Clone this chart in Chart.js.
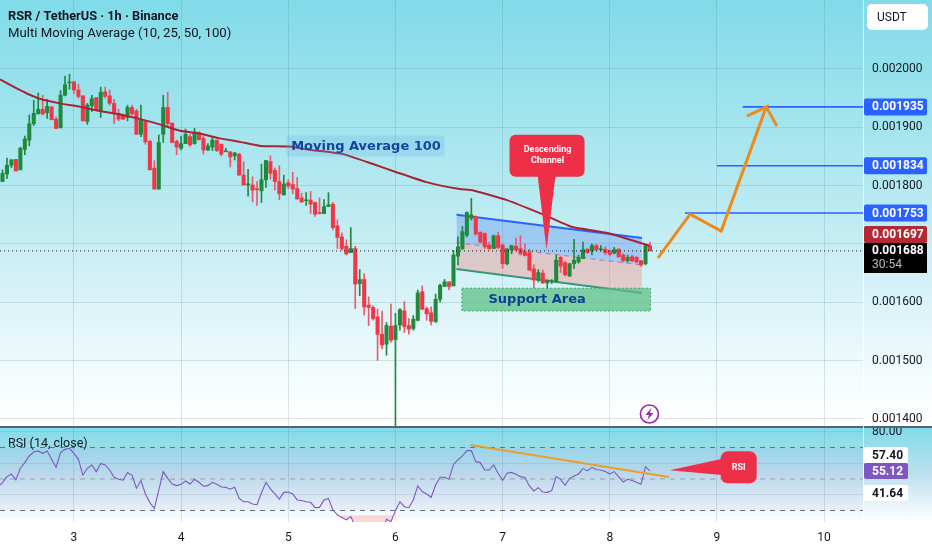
<!DOCTYPE html>
<html><head><meta charset="utf-8">
<style>html,body{margin:0;padding:0;background:#fff;overflow:hidden}canvas{display:block}</style>
<script src="https://cdn.jsdelivr.net/npm/chart.js@4/dist/chart.umd.min.js"></script>
</head><body><canvas id="c" width="932" height="550"></canvas>
<script>
// Prices in millionths of USDT (1935 = 0.001935). Candles are hourly; candle 16 opens day 3.
const firstCandleDay = 3 - 16/24;
const opens = [1807,1820,1835,1845,1827,1862,1878,1906,1923,1931,1925,1935,1914,1899,1955,1976,1978,1964,1954,1910,1937,1951,1929,1961,1954,1941,1924,1921,1917,1934,1928,1888,1910,1876,1830,1794,1888,1934,1907,1876,1864,1872,1884,1872,1891,1881,1861,1866,1878,1871,1858,1858,1851,1854,1818,1801,1801,1794,1791,1810,1841,1826,1807,1784,1805,1802,1795,1779,1774,1775,1771,1754,1752,1764,1768,1731,1712,1696,1685,1692,1632,1639,1595,1591,1575,1545,1528,1559,1536,1561,1585,1560,1555,1569,1618,1589,1582,1567,1605,1627,1635,1628,1679,1692,1715,1744,1747,1720,1718,1698,1692,1714,1698,1666,1690,1696,1692,1687,1685,1657,1638,1650,1633,1635,1635,1677,1668,1645,1666,1669,1675,1691,1688,1697,1690,1691,1688,1684,1691,1681,1671,1678,1677,1671,1666,1697];
const highs = [1827,1847,1845,1845,1866,1885,1921,1946,1959,1955,1948,1935,1918,1963,1988,1991,1978,1974,1954,1941,1955,1951,1969,1969,1964,1948,1931,1923,1938,1938,1931,1938,1911,1878,1843,1887,1955,1960,1908,1878,1885,1897,1888,1898,1892,1885,1872,1884,1878,1871,1864,1858,1857,1855,1841,1828,1815,1807,1837,1843,1851,1830,1834,1818,1810,1823,1814,1787,1788,1790,1772,1779,1776,1788,1771,1741,1719,1707,1728,1696,1656,1649,1609,1594,1588,1585,1565,1597,1581,1589,1601,1572,1577,1621,1628,1592,1592,1614,1631,1639,1635,1689,1712,1730,1755,1778,1748,1721,1719,1703,1715,1720,1700,1692,1698,1710,1714,1700,1691,1664,1656,1655,1638,1639,1681,1679,1670,1667,1708,1681,1703,1692,1700,1700,1697,1695,1690,1694,1692,1683,1681,1681,1679,1672,1698,1703];
const lows = [1807,1812,1831,1825,1827,1853,1868,1903,1923,1921,1915,1913,1898,1899,1954,1965,1958,1950,1911,1905,1927,1929,1917,1950,1938,1906,1911,1913,1911,1921,1888,1884,1871,1827,1794,1794,1874,1901,1874,1853,1861,1872,1867,1871,1878,1854,1860,1860,1858,1851,1858,1832,1844,1818,1801,1782,1772,1766,1771,1797,1811,1792,1776,1784,1795,1786,1777,1771,1766,1752,1747,1751,1752,1764,1724,1692,1689,1681,1685,1589,1611,1578,1560,1569,1500,1520,1509,1531,1386,1552,1548,1545,1552,1568,1587,1569,1561,1565,1600,1627,1621,1628,1664,1690,1712,1741,1715,1701,1692,1690,1692,1692,1658,1664,1683,1688,1681,1679,1655,1624,1635,1632,1624,1632,1635,1651,1645,1644,1658,1667,1675,1684,1681,1688,1688,1681,1679,1683,1677,1669,1669,1669,1668,1662,1664,1688];
const closes = [1821,1835,1844,1825,1864,1880,1906,1924,1931,1923,1936,1913,1898,1955,1973,1977,1964,1953,1911,1938,1949,1929,1960,1953,1941,1923,1914,1914,1934,1923,1888,1913,1875,1827,1794,1874,1934,1906,1874,1866,1872,1888,1870,1892,1879,1861,1868,1878,1860,1854,1859,1849,1856,1818,1801,1803,1792,1793,1810,1843,1821,1807,1786,1803,1799,1794,1777,1772,1775,1768,1751,1752,1764,1767,1728,1711,1692,1683,1692,1631,1639,1592,1591,1572,1545,1527,1560,1535,1560,1587,1558,1554,1571,1616,1588,1580,1567,1605,1629,1635,1627,1681,1695,1721,1754,1750,1717,1703,1695,1692,1714,1694,1666,1691,1697,1690,1683,1680,1655,1638,1651,1633,1638,1636,1672,1662,1647,1666,1672,1677,1690,1685,1697,1690,1691,1685,1682,1690,1678,1671,1677,1671,1669,1664,1697,1688];
const maDays = [2.31,2.43,2.56,2.68,2.87,3.06,3.24,3.43,3.62,3.80,3.99,4.18,4.36,4.55,4.74,5.01,5.22,5.51,5.79,6.01,6.29,6.60,6.72,7.04,7.41,7.65,7.97,8.37];
const maValues = [1982,1970,1958,1949,1941,1935,1928,1922,1914,1905,1894,1889,1881,1875,1868,1867,1861,1854,1837,1823,1806,1794,1792,1775,1748,1729,1719,1697];
// RSI, hourly, starting one hour before the first candle
const rsiValues = [45.1,47.7,51.5,53.2,49.4,56.8,60.4,64.6,67.1,67.8,66.3,67.8,62.5,57.4,66.7,68.8,69.5,66.3,62.5,52.5,56.8,58.9,54.7,59.9,58.9,55.7,51.1,49.8,49.2,54.0,52.5,44.1,49.0,40.5,35.0,31.4,43.0,54.7,50.4,46.8,45.8,46.6,48.7,46.8,49.8,47.9,45.4,45.8,47.9,46.6,44.9,44.7,43.5,44.7,37.7,35.6,35.6,34.1,33.7,41.3,47.9,43.7,40.5,37.3,41.5,41.7,40.5,36.7,36.3,35.6,35.2,31.8,32.0,36.7,37.7,30.3,27.2,25.5,24.0,26.1,19.8,17.6,13.4,13.4,13.4,11.3,15.5,24.4,22.9,29.9,35.6,32.4,31.8,36.7,45.6,42.0,40.5,38.4,46.2,51.1,51.1,49.8,59.3,62.1,64.6,68.0,68.0,61.0,60.4,55.7,55.7,58.9,53.6,49.0,53.6,54.2,53.0,51.5,50.9,45.6,42.4,44.5,41.7,41.5,42.6,51.5,49.8,46.0,50.4,51.9,53.2,56.6,55.3,57.4,55.9,55.7,54.7,53.2,54.7,51.5,48.1,49.8,49.0,47.9,46.6,57.8,55.1];
const dayTicks = [3,4,5,6,7,8,9,10];
const priceTicks = [1400,1500,1600,1700,1800,1900,2000];
const rsiTicks = [40,60,80];
const rsiBands = [70,50,30];
const targetLevels = [1935,1834,1753];
const targetStarts = [9.24,9.00,8.70];
const lastPrice = 1688, maLast = 1697;
const channelDays = [6.57,8.30];
const channelUpper = [1750,1710];
const channelMiddle = [1702,1664];
const channelLower = [1657,1616];
const supportDays = [6.62,8.38];
const supportPrices = [1585,1624];
const arrowDays = [8.45,8.75,9.04,9.46,9.28,9.46,9.56];
const arrowPrices = [1676,1751,1722,1935,1919,1935,1902];
const rsiTrendDays = [6.70,8.55];
const rsiTrendValues = [71.6,51.3];
const rsiLabels = ['57.40','55.12','41.64'];

const xMin = 2.31, xMax = 10.363;
const day = i => firstCandleDay + i/24;
const red = '#f23645', green = '#1f8a3c';
const up = i => closes[i] >= opens[i];
const idx = opens.map((_,i)=>i);
const xy = (xs,ys) => xs.map((x,i)=>({x,y:ys[i]}));
const wick = (f,color) => ({type:'bar',yAxisID:'y',order:20,grouped:false,barThickness:1,backgroundColor:color,borderWidth:0,
  data:idx.filter(f).map(i=>({x:day(i),y:[lows[i],highs[i]]}))});
const body = (f,color) => ({type:'bar',yAxisID:'y',order:19,grouped:false,barThickness:3.4,minBarLength:1,backgroundColor:color,borderWidth:0,
  data:idx.filter(f).map(i=>({x:day(i),y:[Math.min(opens[i],closes[i]),Math.max(opens[i],closes[i])]}))});
const line = (data,o) => Object.assign({type:'line',yAxisID:'y',pointRadius:0,tension:0,fill:false,borderWidth:1,data},o);

const data = {datasets:[
  line(xy(channelDays,channelUpper),{order:25,borderColor:'#2962ff',borderWidth:2,fill:'+1',backgroundColor:'rgba(80,130,240,0.33)'}),
  line(xy(channelDays,channelMiddle),{order:25,borderColor:'rgba(230,70,90,0.75)',borderDash:[5,4],fill:'+1',backgroundColor:'rgba(250,130,125,0.36)'}),
  line(xy(channelDays,channelLower),{order:25,borderColor:'#109a78',borderWidth:2}),
  wick(i=>up(i),green), wick(i=>!up(i),'#ea5a6c'), body(i=>up(i),green), body(i=>!up(i),red),
  line(xy(maDays,maValues),{order:10,borderColor:'#a52535',borderWidth:2,tension:0.15}),
  line(xy([xMin,xMax],[lastPrice,lastPrice]),{order:9,borderColor:'#111',borderDash:[1,3]}),
  line(xy([targetStarts[0],xMax],[targetLevels[0],targetLevels[0]]),{order:8,borderColor:'#2962ff',borderWidth:1.6}),
  line(xy([targetStarts[1],xMax],[targetLevels[1],targetLevels[1]]),{order:8,borderColor:'#2962ff',borderWidth:1.6}),
  line(xy([targetStarts[2],xMax],[targetLevels[2],targetLevels[2]]),{order:8,borderColor:'#2962ff',borderWidth:1.6}),
  line(xy(arrowDays,arrowPrices),{order:7,borderColor:'#ee8a1c',borderWidth:3,borderJoinStyle:'miter'}),
  line(xy([xMin,xMax],[rsiBands[0],rsiBands[0]]),{yAxisID:'y2',order:15,borderColor:'#66727c',borderDash:[5,5],fill:'+1',backgroundColor:'rgba(126,87,194,0.05)'}),
  line(xy([xMin,xMax],[rsiBands[2],rsiBands[2]]),{yAxisID:'y2',order:15,borderColor:'#66727c',borderDash:[5,5]}),
  line(xy([xMin,xMax],[rsiBands[1],rsiBands[1]]),{yAxisID:'y2',order:15,borderColor:'#96a2a9',borderDash:[5,5]}),
  line(rsiValues.map((v,i)=>({x:day(i-1),y:v})),{yAxisID:'y2',order:12,borderColor:'#7e57c2',borderWidth:1.1,
    fill:{target:{value:27},above:'rgba(0,0,0,0)',below:'rgba(255,110,120,0.28)'}}),
  line(xy(rsiTrendDays,rsiTrendValues),{yAxisID:'y2',order:11,borderColor:'#e8a02c',borderWidth:2})
]};

function rr(c,x,y,w,h,r){c.beginPath();c.roundRect(x,y,w,h,r);}
function badge(c,txt,x,y,w,h,bg,fg,r){c.fillStyle=bg;rr(c,x,y,w,h,r||2);c.fill();c.fillStyle=fg;c.font='bold 12px Roboto';c.textAlign='left';c.textBaseline='middle';c.fillText(txt,x+8,y+h/2+0.5);}
const fmt = v => (v/1e6).toFixed(6);
const noPad = s => {s.paddingTop=0;s.paddingBottom=0;s.paddingLeft=0;s.paddingRight=0;};

const panes = {id:'panes',
  beforeDraw(ch){const c=ch.ctx,py=ch.scales.y,ry=ch.scales.y2;
    c.save();c.fillStyle='#fff';c.fillRect(0,0,ch.width,ch.height);
    let g=c.createLinearGradient(0,0,0,py.bottom);g.addColorStop(0,'#80dbe8');g.addColorStop(0.5,'#bdebf2');g.addColorStop(0.97,'#ffffff');
    c.fillStyle=g;c.fillRect(0,0,ch.width,py.bottom);
    g=c.createLinearGradient(0,ry.top,0,ry.bottom);g.addColorStop(0,'#80dbe8');g.addColorStop(0.5,'#bfe0ee');g.addColorStop(1,'#ffffff');
    c.fillStyle=g;c.fillRect(0,ry.top,ch.width,ry.bottom-ry.top);
    c.restore();},
  afterDraw(ch){const c=ch.ctx,X=ch.scales.x,Y=ch.scales.y,R=ch.scales.y2;
    c.save();
    // support zone
    const sx0=X.getPixelForValue(supportDays[0]),sx1=X.getPixelForValue(supportDays[1]);
    const sy0=Y.getPixelForValue(supportPrices[1]),sy1=Y.getPixelForValue(supportPrices[0]);
    c.fillStyle='rgba(90,190,130,0.72)';c.fillRect(sx0,sy0,sx1-sx0,sy1-sy0);
    c.strokeStyle='#4aa36e';c.setLineDash([2,2]);c.strokeRect(sx0,sy0,sx1-sx0,sy1-sy0);c.setLineDash([]);
    c.fillStyle='#0f3f94';c.font='bold 13px "DejaVu Sans"';c.textAlign='center';c.textBaseline='middle';
    c.fillText('Support Area',(sx0+sx1)/2-19,(sy0+sy1)/2);
    // MA caption
    const mx=X.getPixelForValue(5.73),my=Y.getPixelForValue(1867);
    c.fillStyle='rgba(90,170,240,0.22)';c.fillRect(mx-80,my-11,158,21);
    c.fillStyle='#12459c';c.font='bold 13px "DejaVu Sans"';c.fillText('Moving Average 100',mx-0.5,my);
    // descending channel callout
    const tx=X.getPixelForValue(7.41),ty=Y.getPixelForValue(1690);
    c.fillStyle='#ee2f48';rr(c,tx-37,ty-115,75,42,6);c.fill();
    c.beginPath();c.moveTo(tx-9,ty-75);c.lineTo(tx,ty);c.lineTo(tx+9,ty-75);c.closePath();c.fill();
    c.fillStyle='#fff';c.font='bold 9px Roboto';c.fillText('Descending',tx+1,ty-100);c.fillText('Channel',tx+1,ty-89);
    // RSI callout
    const qx=X.getPixelForValue(8.55),qy=R.getPixelForValue(55.5);
    c.fillStyle='#ee2f48';rr(c,qx+52,qy-19,36,32,7);c.fill();
    c.beginPath();c.moveTo(qx+1,qy);c.lineTo(qx+56,qy-12);c.lineTo(qx+56,qy+5);c.closePath();c.fill();
    c.fillStyle='#fff';c.font='bold 9px Roboto';c.fillText('RSI',qx+70,qy-3);
    // bolt icon
    const bx=X.getPixelForValue(8.37),by=414;
    c.fillStyle='rgba(255,255,255,0.7)';c.strokeStyle='#9c27b0';c.lineWidth=1.6;c.beginPath();c.arc(bx,by,9,0,Math.PI*2);c.fill();c.stroke();
    c.fillStyle='#9c27b0';c.beginPath();c.moveTo(bx+2,by-6);c.lineTo(bx-4,by+1);c.lineTo(bx-0.5,by+1);c.lineTo(bx-2,by+6);c.lineTo(bx+4,by-1);c.lineTo(bx+0.5,by-1);c.closePath();c.fill();
    // pane separators
    c.fillStyle='#4f6773';c.fillRect(0,Y.bottom-1,ch.width,2);
    c.fillStyle='rgba(255,255,255,0.85)';c.fillRect(863,0,1,R.bottom);
    // header text
    c.textAlign='left';c.textBaseline='middle';c.fillStyle='#131722';
    c.font='bold 12.8px Roboto';c.fillText('RSR / TetherUS · 1h · Binance',8,16.5);
    c.font='13.2px Roboto';c.fillText('Multi Moving Average (10, 25, 50, 100)',8,33.5);
    c.font='12.5px Roboto';c.fillText('RSI (14, close)',8,444);
    // currency button
    c.fillStyle='#fff';rr(c,867,4,61,26,5);c.fill();c.fillStyle='#131722';c.font='12px Roboto';c.fillText('USDT',877,17.5);
    // price badges
    targetLevels.forEach(v=>badge(c,fmt(v),864,Y.getPixelForValue(v)-8.5,63,17,'#2962ff','#fff'));
    badge(c,fmt(maLast),864,226,63,17,'#b22833','#fff');
    c.fillStyle='#000';c.fillRect(864,243,63,30);c.fillStyle='#fff';c.font='bold 12px Roboto';c.fillText(fmt(lastPrice),872,251);
    c.fillStyle='#b8bcc4';c.font='12px Roboto';c.fillText('30:54',872,265);
    // RSI badges
    badge(c,rsiLabels[0],864,447,44,16,'#fff','#131722');
    badge(c,rsiLabels[1],864,463,44,16,'#7e57c2','#fff');
    badge(c,rsiLabels[2],864,485,44,16,'#fff','#131722');
    c.restore();}
};

const chart = new Chart(document.getElementById('c'),{type:'bar',data,plugins:[panes],options:{
  responsive:false,animation:false,devicePixelRatio:1,
  layout:{padding:0},
  plugins:{legend:{display:false},tooltip:{enabled:false}},
  scales:{
    x:{type:'linear',position:'bottom',min:xMin,max:xMax,offset:false,
      afterBuildTicks:s=>{s.ticks=dayTicks.map(v=>({value:v}));},
      afterFit:s=>{s.height=28;noPad(s);},
      border:{display:false},
      grid:{color:'rgba(70,110,130,0.18)',drawTicks:false,offset:false},
      ticks:{color:'#131722',font:{family:'Roboto',size:12},padding:9,maxRotation:0,autoSkip:false,callback:v=>String(v)}},
    y:{type:'linear',position:'right',stack:'panes',stackWeight:427,min:1386,max:2118.3,
      afterBuildTicks:s=>{s.ticks=priceTicks.map(v=>({value:v}));},
      afterFit:s=>{s.width=69;noPad(s);},
      border:{display:false},
      grid:{color:'rgba(70,110,130,0.18)',drawTicks:false},
      ticks:{color:'#131722',font:{family:'Roboto',size:12},padding:9,crossAlign:'near',callback:v=>fmt(v)}},
    y2:{type:'linear',position:'right',stack:'panes',stackWeight:95,min:22.7,max:83,
      afterBuildTicks:s=>{s.ticks=rsiTicks.map(v=>({value:v}));},
      afterFit:s=>{s.width=69;noPad(s);},
      border:{display:false},
      grid:{color:'rgba(70,110,130,0.14)',drawTicks:false},
      ticks:{color:'#131722',font:{family:'Roboto',size:12},padding:9,crossAlign:'near',callback:v=>v===80?'80.00':''}}
  }}});
</script></body></html>
